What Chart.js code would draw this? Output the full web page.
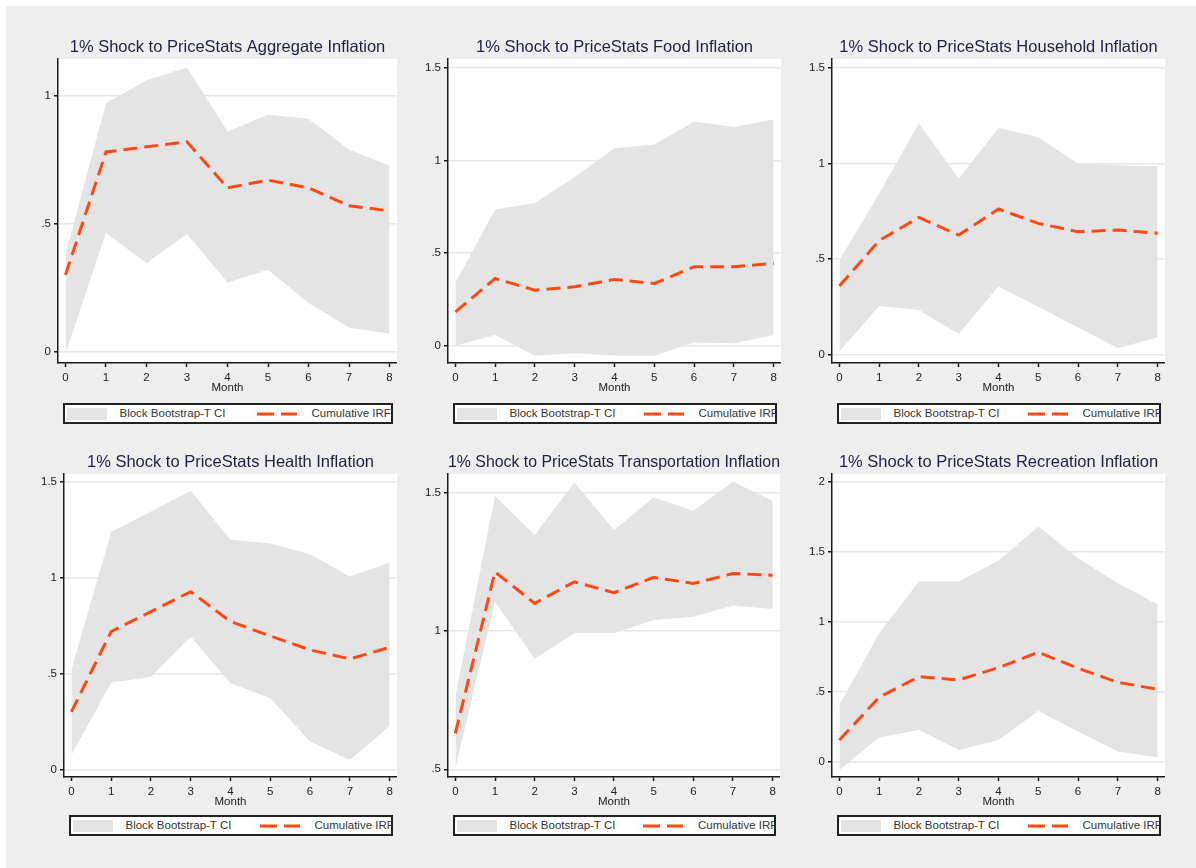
<!DOCTYPE html>
<html lang="en">
<head>
<meta charset="UTF-8">
<title>Cumulative IRFs to PriceStats inflation shocks</title>
<script src="https://cdn.jsdelivr.net/npm/chart.js"></script>
<style>
  body { margin: 0; background: #fff; width: 1196px; height: 868px; position: relative; overflow: hidden; font-family: "Liberation Sans", Arial, sans-serif; }
  #bg { position: absolute; left: 6px; top: 6px; right: 0; bottom: 0; background: #eeeeee; }
  canvas { position: absolute; }
  .legend { position: absolute; box-sizing: border-box; height: 21px; border: 2px solid #222; background: #fff; overflow: hidden; font-size: 11.5px; color: #333; }
  .legend span { position: absolute; top: 2px; white-space: nowrap; }
  .legend .swatch { top: 3px; width: 40px; height: 12px; background: #e4e4e4; }
  .legend svg { position: absolute; top: 7px; }
</style>
</head>
<body>
<div id="bg"></div>
<script>
const months = [0, 1, 2, 3, 4, 5, 6, 7, 8];

const titles = [
  '1% Shock to PriceStats Aggregate Inflation',
  '1% Shock to PriceStats Food Inflation',
  '1% Shock to PriceStats Household Inflation',
  '1% Shock to PriceStats Health Inflation',
  '1% Shock to PriceStats Transportation Inflation',
  '1% Shock to PriceStats Recreation Inflation'
];

// Aggregate
const aggUpper = [0.38, 0.97, 1.06, 1.11, 0.86, 0.925, 0.91, 0.79, 0.725];
const aggLower = [-0.01, 0.465, 0.345, 0.46, 0.27, 0.32, 0.19, 0.095, 0.07];
const aggIrf   = [0.30, 0.78, 0.80, 0.82, 0.64, 0.67, 0.64, 0.57, 0.55];

// Food
const foodUpper = [0.34, 0.735, 0.77, 0.91, 1.065, 1.086, 1.21, 1.18, 1.22];
const foodLower = [0.0, 0.058, -0.054, -0.04, -0.054, -0.054, 0.018, 0.013, 0.058];
const foodIrf   = [0.183, 0.363, 0.30, 0.318, 0.358, 0.336, 0.426, 0.426, 0.444];

// Household
const hhUpper = [0.495, 0.843, 1.21, 0.92, 1.185, 1.137, 1.0, 0.99, 0.985];
const hhLower = [0.017, 0.256, 0.235, 0.11, 0.357, 0.252, 0.143, 0.035, 0.092];
const hhIrf   = [0.36, 0.597, 0.718, 0.626, 0.762, 0.687, 0.643, 0.652, 0.635];

// Health
const healthUpper = [0.52, 1.24, 1.347, 1.456, 1.20, 1.18, 1.124, 1.007, 1.08];
const healthLower = [0.075, 0.453, 0.484, 0.693, 0.45, 0.371, 0.145, 0.049, 0.226];
const healthIrf   = [0.30, 0.72, 0.824, 0.928, 0.772, 0.697, 0.624, 0.577, 0.637];

// Transportation
const transUpper = [0.763, 1.488, 1.347, 1.537, 1.365, 1.483, 1.435, 1.54, 1.471];
const transLower = [0.504, 1.106, 0.90, 0.992, 0.992, 1.04, 1.052, 1.092, 1.08];
const transIrf   = [0.63, 1.214, 1.10, 1.178, 1.139, 1.194, 1.172, 1.208, 1.202];

// Recreation
const recUpper = [0.406, 0.919, 1.289, 1.289, 1.44, 1.683, 1.456, 1.277, 1.126];
const recLower = [-0.06, 0.172, 0.227, 0.084, 0.155, 0.363, 0.215, 0.072, 0.031];
const recIrf   = [0.155, 0.46, 0.609, 0.585, 0.673, 0.783, 0.668, 0.568, 0.518];

// y axis ticks
const yTicksA = [0, 0.5, 1];
const yTicksB = [0, 0.5, 1, 1.5];
const yTicksT = [0.5, 1, 1.5];
const yTicksR = [0, 0.5, 1, 1.5, 2];

const legendLabels = ['Block Bootstrap-T CI', 'Cumulative IRF'];

const BAND = '#e4e4e4';
const ORANGE = '#ff4812';
const INK = '#1a1a1a';
const FONT = '"Liberation Sans", Arial, sans-serif';

// chart area boxes [left, top, right, bottom] in page pixels
const panels = [
  { title: titles[0], upper: aggUpper,    lower: aggLower,    irf: aggIrf,    ticks: yTicksA, yMin: -0.044, yMax: 1.143, area: [58, 59, 397, 363],   legendTop: 403 },
  { title: titles[1], upper: foodUpper,   lower: foodLower,   irf: foodIrf,   ticks: yTicksB, yMin: -0.093, yMax: 1.547, area: [448, 59, 781, 363],  legendTop: 403 },
  { title: titles[2], upper: hhUpper,     lower: hhLower,     irf: hhIrf,     ticks: yTicksB, yMin: -0.042, yMax: 1.545, area: [832, 59, 1165, 363], legendTop: 403 },
  { title: titles[3], upper: healthUpper, lower: healthLower, irf: healthIrf, ticks: yTicksB, yMin: -0.040, yMax: 1.543, area: [64, 474, 397, 777],  legendTop: 815 },
  { title: titles[4], upper: transUpper,  lower: transLower,  irf: transIrf,  ticks: yTicksT, yMin: 0.472,  yMax: 1.568, area: [448, 474, 780, 777], legendTop: 815 },
  { title: titles[5], upper: recUpper,    lower: recLower,    irf: recIrf,    ticks: yTicksR, yMin: -0.11,  yMax: 2.059, area: [832, 474, 1165, 777], legendTop: 815 }
];

const TITLE_H = 22, XAXIS_H = 32, YAXIS_W = 40;

const pts = arr => months.map((m, i) => ({ x: m, y: arr[i] }));
const fmt = v => v === 0 ? '0' : String(v).replace(/^0\./, '.');

const whiteArea = {
  id: 'whiteArea',
  beforeDraw(chart) {
    const a = chart.chartArea, ctx = chart.ctx;
    ctx.save();
    ctx.fillStyle = '#fff';
    ctx.fillRect(a.left, a.top, a.right - a.left, a.bottom - a.top);
    ctx.restore();
  }
};

function addLegend(p) {
  const [L, , R] = p.area;
  const left = L + 4.5, w = R - L - 9;
  const box = document.createElement('div');
  box.className = 'legend';
  box.style.left = left + 'px';
  box.style.top = p.legendTop + 'px';
  box.style.width = w + 'px';
  const half = w / 2;
  box.innerHTML =
    '<span class="swatch" style="left:2px"></span>' +
    '<span style="left:55px">' + legendLabels[0] + '</span>' +
    '<svg width="40" height="4" style="left:' + (half + 27) + 'px"><line x1="0" y1="2" x2="40" y2="2" stroke="' + ORANGE + '" stroke-width="3" stroke-dasharray="17 7"/></svg>' +
    '<span style="left:' + (half + 82) + 'px">' + legendLabels[1] + '</span>';
  document.body.appendChild(box);
}

panels.forEach(p => {
  const [L, T, R, B] = p.area;
  const left = L - YAXIS_W, top = T - TITLE_H;
  const w = R - left, h = B - top + XAXIS_H;
  const cv = document.createElement('canvas');
  cv.width = w; cv.height = h;
  cv.style.left = left + 'px'; cv.style.top = top + 'px';
  cv.style.width = w + 'px'; cv.style.height = h + 'px';
  document.body.appendChild(cv);

  new Chart(cv, {
    type: 'line',
    data: {
      datasets: [
        { label: legendLabels[1], data: pts(p.irf), borderColor: ORANGE, borderWidth: 3, borderDash: [14, 7],
          pointRadius: 0, fill: false, tension: 0, order: 0 },
        { label: legendLabels[0], data: pts(p.upper), borderWidth: 0, borderColor: BAND, backgroundColor: BAND,
          pointRadius: 0, fill: '+1', tension: 0, order: 1 },
        { label: 'lower', data: pts(p.lower), borderWidth: 0, borderColor: BAND,
          pointRadius: 0, fill: false, tension: 0, order: 2 }
      ]
    },
    options: {
      responsive: false,
      animation: false,
      devicePixelRatio: 1,
      layout: { padding: 0 },
      plugins: {
        legend: { display: false },
        tooltip: { enabled: false },
        title: {
          display: true, text: p.title, fullSize: false, color: '#1e2040',
          font: { family: FONT, size: 16.5, weight: 'normal', lineHeight: '20px' },
          padding: { top: 0, bottom: 2 }
        }
      },
      scales: {
        x: {
          type: 'linear', min: -0.185, max: 8.185,
          afterBuildTicks: s => { s.ticks = months.map(v => ({ value: v })); },
          afterFit: s => { s.height = XAXIS_H; },
          grid: { drawOnChartArea: false, drawTicks: true, tickLength: 4, tickColor: INK, tickWidth: 1.5 },
          border: { color: INK, width: 1.5 },
          ticks: { color: '#222', font: { family: FONT, size: 11.5 }, padding: 4, maxRotation: 0, autoSkip: false },
          title: { display: true, text: 'Month', color: '#222', font: { family: FONT, size: 11.5 }, padding: { top: 0, bottom: 0 } }
        },
        y: {
          min: p.yMin, max: p.yMax,
          afterBuildTicks: s => { s.ticks = p.ticks.map(v => ({ value: v })); },
          afterFit: s => { s.width = YAXIS_W; },
          grid: { color: '#e8e8e8', lineWidth: 1.5, tickColor: INK, tickLength: 4, tickWidth: 1.5 },
          border: { color: INK, width: 1.5 },
          ticks: { callback: fmt, color: '#222', font: { family: FONT, size: 11.5 }, padding: 3 }
        }
      }
    },
    plugins: [whiteArea]
  });

  addLegend(p);
});
</script>
</body>
</html>
